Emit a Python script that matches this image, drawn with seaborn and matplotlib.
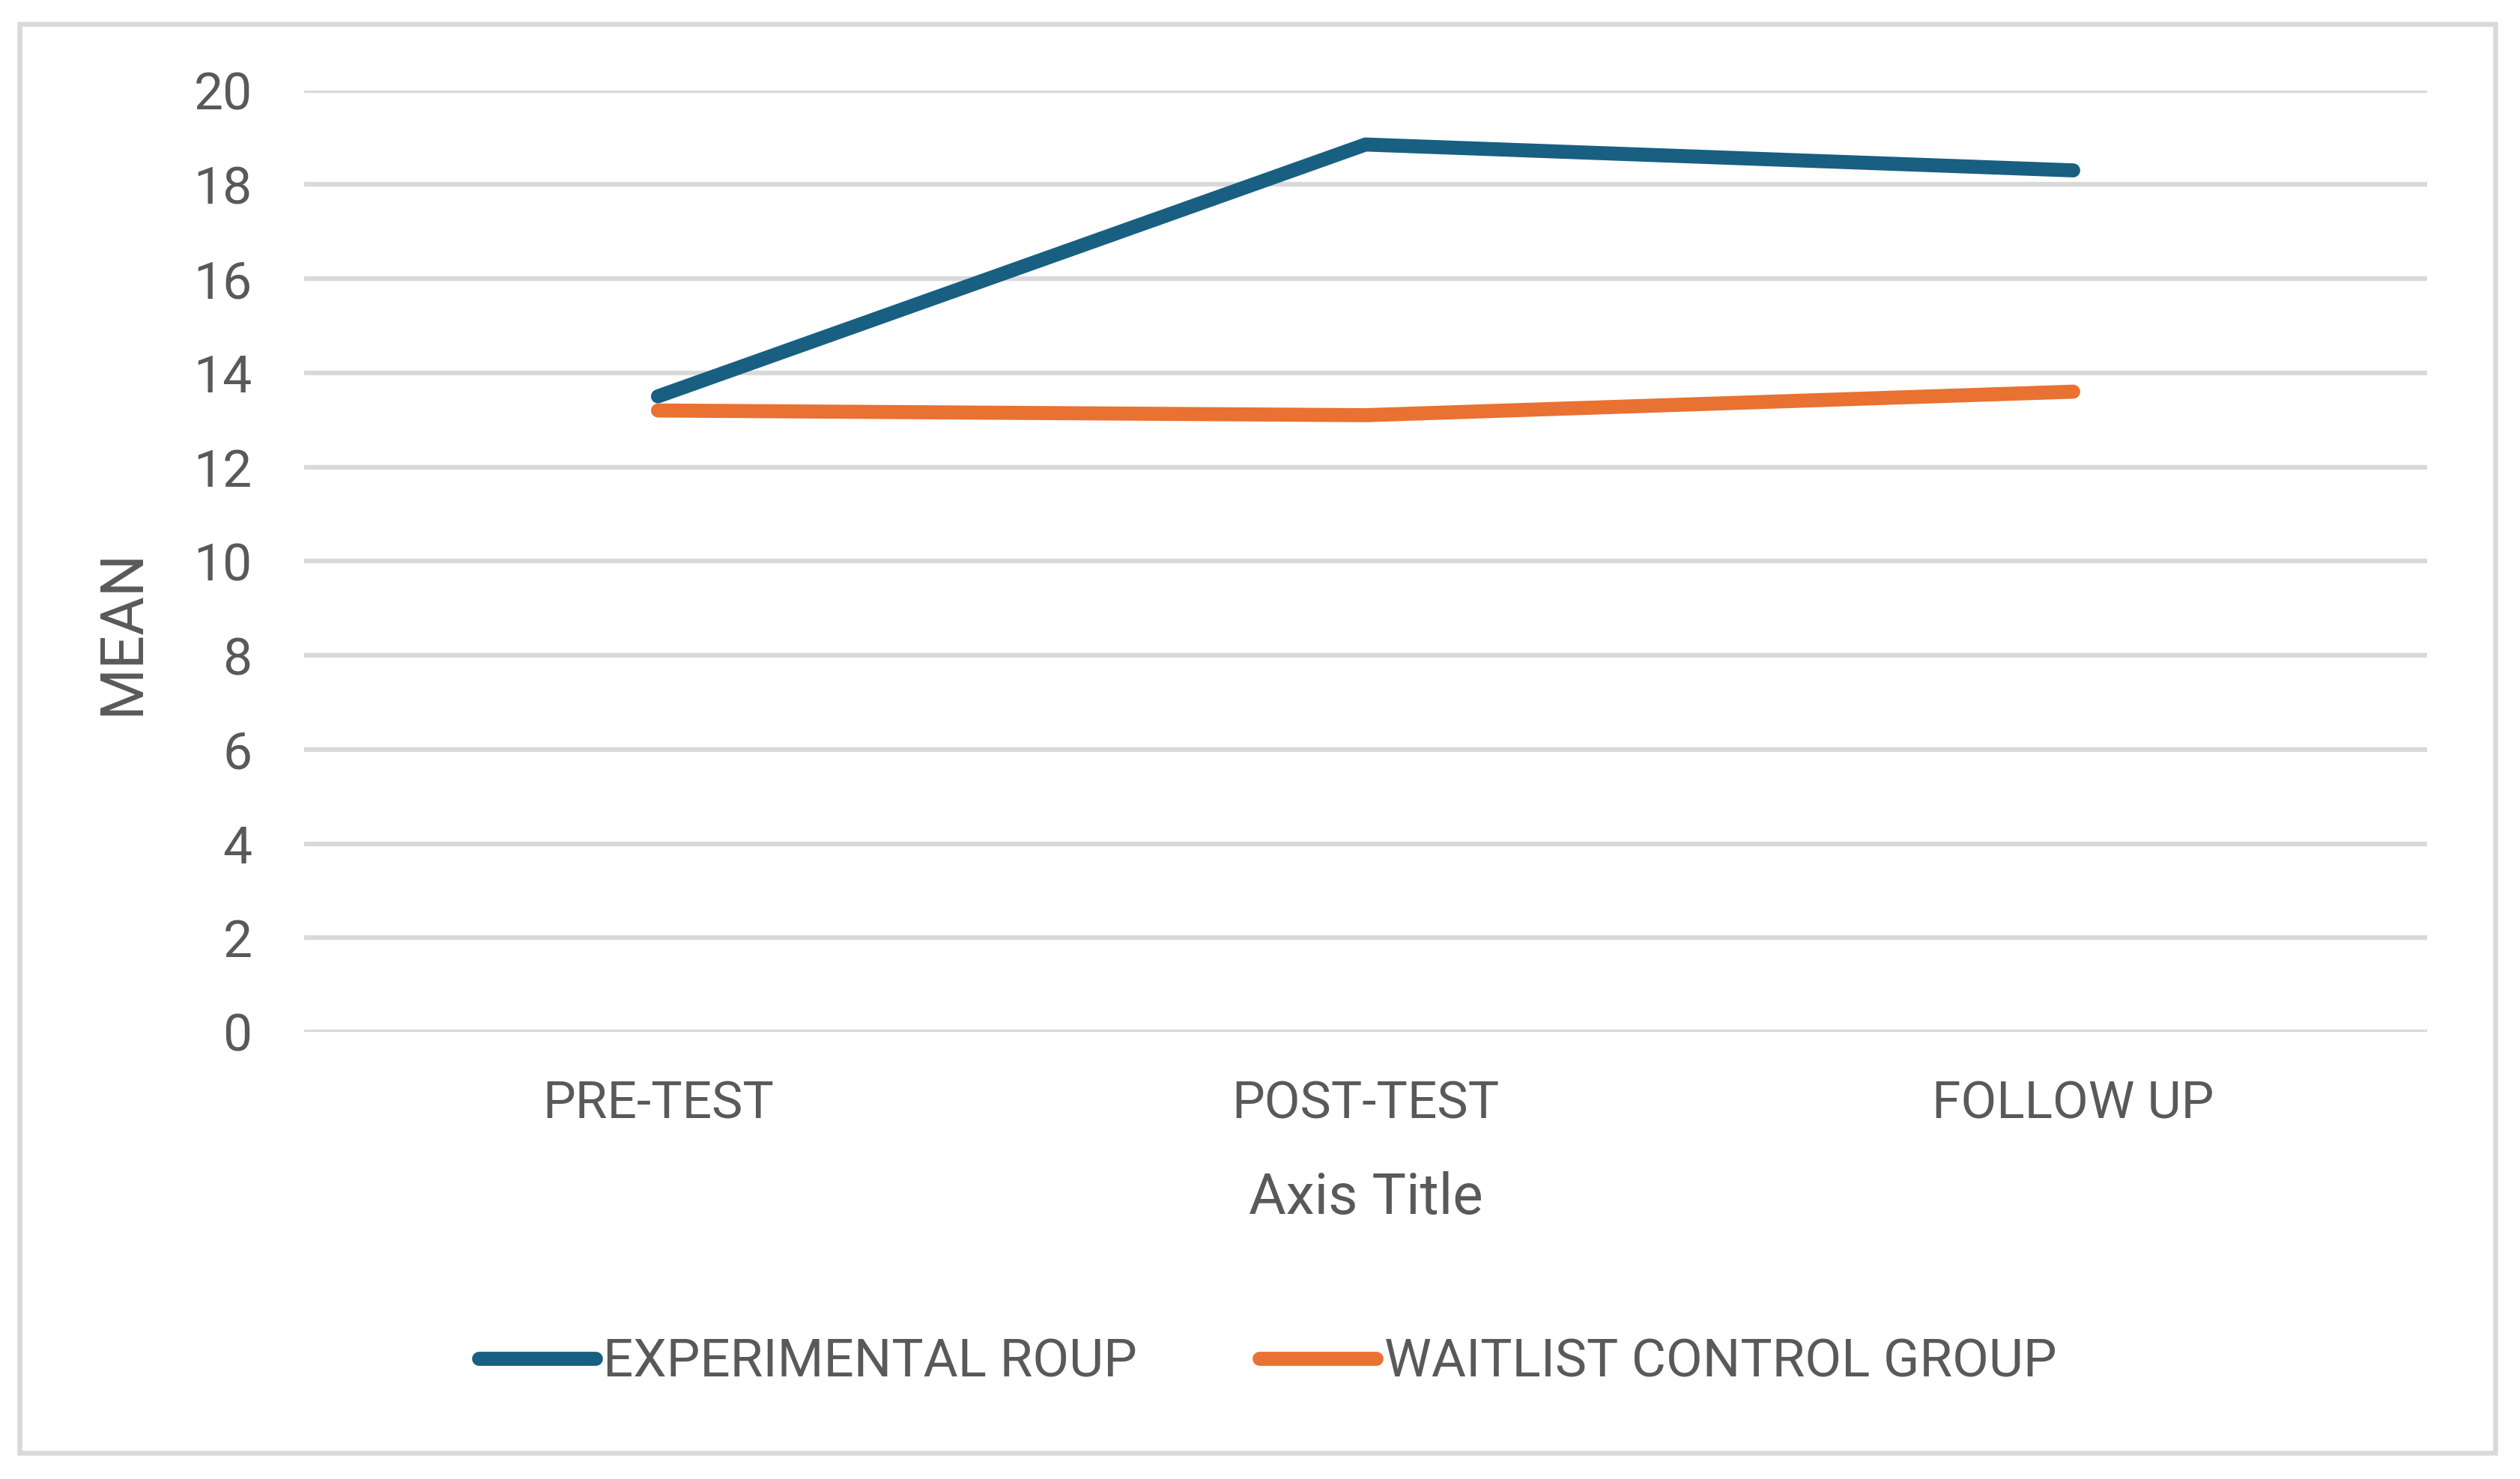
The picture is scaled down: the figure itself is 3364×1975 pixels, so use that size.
import matplotlib
matplotlib.use("Agg")
import matplotlib.pyplot as plt
import seaborn as sns
import pandas as pd
from matplotlib.patches import Rectangle

# values
stages = ["PRE-TEST", "POST-TEST", "FOLLOW UP"]
experimental = [13.5, 18.85, 18.3]
waitlist = [13.2, 13.1, 13.6]
groups = ["EXPERIMENTAL ROUP", "WAITLIST CONTROL GROUP"]
colors = ["#185F82", "#E97132"]
yticks = [0, 2, 4, 6, 8, 10, 12, 14, 16, 18, 20]

df = pd.DataFrame({
    "stage": stages * 2,
    "mean": experimental + waitlist,
    "group": [groups[0]] * 3 + [groups[1]] * 3,
})

sns.set_style("white")
plt.rcParams["font.family"] = ["Roboto", "DejaVu Sans"]
txt = "#595959"
grid = "#D9D9D9"

fig = plt.figure(figsize=(33.64, 19.75), dpi=100)
ax = fig.add_axes([0.1207, 0.3023, 0.8424, 0.6366])

sns.lineplot(data=df, x="stage", y="mean", hue="group", palette=colors,
             sort=False, linewidth=13.5, ax=ax, legend=False)
for ln in ax.lines:
    ln.set_solid_capstyle("round")
    ln.set_solid_joinstyle("miter")

ax.set_ylim(0, 20)
ax.set_xlim(-0.5, 2.5)
ax.set_yticks(yticks)
ax.yaxis.grid(True, color=grid, linewidth=4.5)
ax.set_axisbelow(True)
for s in ax.spines.values():
    s.set_visible(False)
ax.tick_params(axis="both", length=0, labelsize=50, labelcolor=txt)
ax.tick_params(axis="y", pad=50)
ax.tick_params(axis="x", pad=46)

ax.set_xlabel("Axis Title", fontsize=55, color=txt, va="center")
ax.set_ylabel("MEAN", fontsize=57, color=txt, va="center")
ax.xaxis.set_label_coords(0.5, -0.177)
ax.yaxis.set_label_coords(-0.0857, 0.425)

handles = [plt.Line2D([], [], color=c, linewidth=13.5, solid_capstyle="round") for c in colors]
fig.legend(handles, groups, loc="center", bbox_to_anchor=(0.503, 1 - 1819 / 1975),
           ncol=2, frameon=False, fontsize=51, labelcolor=txt,
           handlelength=2.2, handletextpad=0.15, columnspacing=2.3)

fig.patches.append(Rectangle((26 / 3364, 1 - 1940 / 1975), (3331 - 26) / 3364, (1940 - 32) / 1975,
                             transform=fig.transFigure, fill=False, edgecolor=grid,
                             linewidth=4.7, figure=fig))

fig.savefig("out.png", dpi=100, facecolor="white")
